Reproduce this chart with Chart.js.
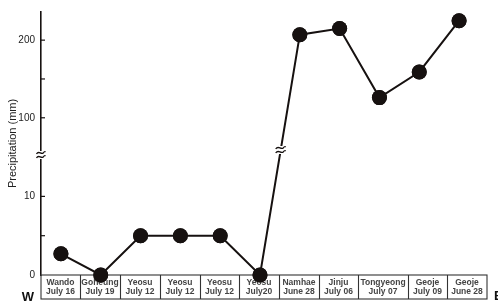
<!DOCTYPE html>
<html>
<head>
<meta charset="utf-8">
<script src="https://cdn.jsdelivr.net/npm/chart.js@4/dist/chart.umd.min.js"></script>
<style>
  html, body { margin: 0; padding: 0; background: #fff; }
  #wrap { width: 498px; height: 303px; position: relative; }
</style>
</head>
<body>
<div id="wrap"><canvas id="c"></canvas></div>
<script>
const stations = ['Wando', 'Goheung', 'Yeosu', 'Yeosu', 'Yeosu', 'Yeosu', 'Namhae', 'Jinju', 'Tongyeong', 'Geoje', 'Geoje'];
const dates = ['July 16', 'July 19', 'July 12', 'July 12', 'July 12', 'July20', 'June 28', 'July 06', 'July 07', 'July 09', 'June 28'];
const precip = [2.7, 0, 5, 5, 5, 0, 207, 215, 126, 159, 225];
const yTicks = [0, 5, 10, 100, 150, 200];
const yLabeled = [0, 10, 100, 200];

// widths of the label cells under the axis (Tongyeong cell is wider)
const cellWidths = [39, 40, 40, 40, 39, 40, 40, 39, 50, 39, 40];

// broken axis: 0-15 stretched, 100-200 compressed
const toAxis = v => v <= 15 ? v * 8.1 : 162 + (v - 100) * 0.8;
const fromAxis = d => d <= 121.5 ? d / 8.1 : 100 + (d - 162) / 0.8;

const ink = '#161110';
const FONT = '"Liberation Sans", Arial, sans-serif';

function squiggle(ctx, x, y, w) {
  ctx.save();
  ctx.fillStyle = '#fff';
  ctx.fillRect(x - w / 2 - 1, y - 4, w + 2, 8);
  ctx.strokeStyle = ink; ctx.lineWidth = 1.3;
  [-2, 2].forEach(off => {
    ctx.beginPath();
    ctx.moveTo(x - w / 2, y + off + 1);
    ctx.bezierCurveTo(x - w / 4, y + off - 3, x, y + off + 2, x + w / 4, y + off);
    ctx.quadraticCurveTo(x + w / 2.5, y + off - 2, x + w / 2, y + off - 1);
    ctx.stroke();
  });
  ctx.restore();
}

const decor = {
  id: 'decor',
  afterDatasetsDraw(chart) {
    const { ctx, chartArea: a, scales: { y } } = chart;
    ctx.save();
    // inward tick marks
    ctx.strokeStyle = ink; ctx.lineWidth = 1.2;
    yTicks.slice(1).forEach(v => {
      const py = y.getPixelForValue(toAxis(v));
      ctx.beginPath(); ctx.moveTo(a.left, py); ctx.lineTo(a.left + 4, py); ctx.stroke();
    });
    // label box under the axis
    const boxTop = a.bottom, boxBot = a.bottom + 24;
    const boxW = cellWidths.reduce((s, w) => s + w, 0);
    ctx.strokeStyle = '#333'; ctx.lineWidth = 1.1;
    ctx.strokeRect(a.left, boxTop, boxW, boxBot - boxTop);
    ctx.fillStyle = '#444';
    ctx.font = 'bold 8.5px ' + FONT;
    ctx.textAlign = 'center'; ctx.textBaseline = 'middle';
    let cx = a.left;
    cellWidths.forEach((w, i) => {
      if (i > 0) {
        ctx.beginPath(); ctx.moveTo(Math.round(cx) + 0.5, boxTop); ctx.lineTo(Math.round(cx) + 0.5, boxBot); ctx.stroke();
      }
      ctx.fillText(stations[i], cx + w / 2, boxTop + 8);
      ctx.fillText(dates[i], cx + w / 2, boxTop + 17);
      cx += w;
    });
    // W / E
    ctx.fillStyle = '#111';
    ctx.font = 'bold 13px ' + FONT;
    ctx.fillText('W', 28, 297);
    ctx.textAlign = 'left';
    ctx.fillText('E', 494, 296);
    ctx.restore();

    // axis break
    squiggle(ctx, a.left, 155, 9);
    // line break between Yeosu July20 and Namhae
    const pts = chart.getDatasetMeta(0).data;
    const p0 = pts[5], p1 = pts[6];
    const by = 150;
    const t = (by - p0.y) / (p1.y - p0.y);
    squiggle(ctx, p0.x + t * (p1.x - p0.x), by, 10);
    // points sit on top of the box
    ctx.save();
    ctx.fillStyle = ink;
    pts.forEach(p => { ctx.beginPath(); ctx.arc(p.x, p.y, 7.5, 0, Math.PI * 2); ctx.fill(); });
    ctx.restore();
  }
};

new Chart(document.getElementById('c'), {
  type: 'line',
  data: {
    labels: stations.map((s, i) => s + ' ' + dates[i]),
    datasets: [{
      data: precip.map(toAxis),
      borderColor: ink,
      borderWidth: 2,
      pointRadius: 7.5,
      pointBackgroundColor: ink,
      pointBorderWidth: 0,
      tension: 0,
      clip: false
    }]
  },
  options: {
    responsive: true,
    maintainAspectRatio: false,
    animation: false,
    layout: { padding: { top: 4, right: 19, left: 0, bottom: 0 } },
    plugins: { legend: { display: false }, tooltip: { enabled: false } },
    scales: {
      x: {
        offset: true,
        grid: { display: false, drawTicks: false },
        border: { display: false },
        afterFit: s => { s.height = 28; },
        ticks: { display: false }
      },
      y: {
        min: 0, max: 271,
        grid: { display: false, drawTicks: false },
        border: { display: true, color: ink, width: 1.6 },
        afterFit: s => { s.width = 41; },
        afterBuildTicks: s => { s.ticks = yTicks.map(v => ({ value: toAxis(v) })); },
        ticks: {
          padding: 6,
          color: '#222',
          font: { family: FONT, size: 10 },
          callback: d => {
            const v = Math.round(fromAxis(d));
            return yLabeled.includes(v) ? String(v) : '';
          }
        },
        title: {
          display: true, text: 'Precipitation (mm)', color: '#222',
          padding: { top: 6, bottom: 0 },
          font: { family: FONT, size: 11 }
        }
      }
    }
  },
  plugins: [decor]
});
</script>
</body>
</html>
